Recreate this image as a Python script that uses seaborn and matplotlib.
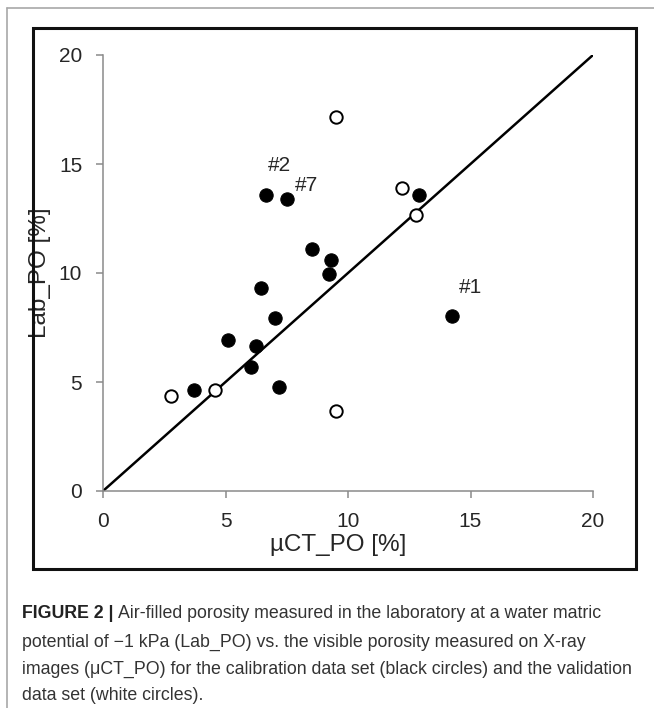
import numpy as np
import pandas as pd
import seaborn as sns
import matplotlib.pyplot as plt
from matplotlib.lines import Line2D
from matplotlib.patches import Rectangle

# kalibracija (crni krugovi)
calib_x = [6.64, 7.50, 12.91, 8.52, 9.29, 9.24, 6.44, 7.02, 5.09, 6.23, 6.04, 7.20, 3.70, 14.23]
calib_y = [13.58, 13.38, 13.58, 11.10, 10.58, 9.95, 9.30, 7.95, 6.94, 6.67, 5.69, 4.79, 4.62, 8.03]
# validacija (bijeli krugovi)
valid_x = [9.51, 12.19, 12.76, 4.56, 2.76, 9.52]
valid_y = [17.17, 13.91, 12.65, 4.62, 4.36, 3.65]
# oznake uzoraka: indeks u kalibraciji, tekst, pomak u pt
point_labels = [(0, '#2', (9.6, 20.9)), (1, '#7', (13.9, 10.3)), (13, '#1', (13.9, 20.2))]
ticks = [0, 5, 10, 15, 20]
line_1to1 = [0, 20]

sns.set_style('white')
plt.rcParams['font.family'] = ['Liberation Sans', 'DejaVu Sans']

calib = pd.DataFrame({'x': calib_x, 'y': calib_y})
valid = pd.DataFrame({'x': valid_x, 'y': valid_y})

fig = plt.figure(figsize=(6.54, 7.08), dpi=100)
ax = fig.add_axes([103 / 654, 1 - 491 / 708, 490 / 654, 436 / 708])

# okviri
fig.add_artist(Line2D([7 / 654, 7 / 654], [0, 1 - 8 / 708], transform=fig.transFigure, color='#a8a8a8', lw=1.2))
fig.add_artist(Line2D([7 / 654, 1], [1 - 8 / 708, 1 - 8 / 708], transform=fig.transFigure, color='#a8a8a8', lw=1.2))
fig.add_artist(Rectangle((33 / 654, 1 - 569 / 708), 603 / 654, 541 / 708, transform=fig.transFigure,
                         fill=False, edgecolor='#111111', lw=2.2))

ax.plot(line_1to1, line_1to1, color='black', lw=1.8, zorder=2)
sns.scatterplot(x='x', y='y', data=calib, ax=ax, color='black', edgecolor='black', s=92, zorder=3)
sns.scatterplot(x='x', y='y', data=valid, ax=ax, color='white', edgecolor='black', linewidth=1.4, s=80, zorder=3)

for i, txt, off in point_labels:
    ax.annotate(txt, (calib_x[i], calib_y[i]), xytext=off, textcoords='offset points',
                ha='center', va='center', fontsize=15)

ax.set_xlim(0, 20)
ax.set_ylim(0, 20)
ax.set_xticks(ticks)
ax.set_yticks(ticks)
ax.tick_params(axis='both', direction='out', length=5, width=1.1, color='#8a8a8a',
               labelsize=15, pad=10, bottom=True, left=True)
for side in ['top', 'right']:
    ax.spines[side].set_visible(False)
for side in ['left', 'bottom']:
    ax.spines[side].set_color('#8a8a8a')
    ax.spines[side].set_linewidth(1.1)

ax.set_xlabel('µCT_PO [%]', fontsize=17.5)
ax.set_ylabel('Lab_PO [%]', fontsize=17.5)
ax.xaxis.label.set_va('center')
ax.yaxis.label.set_va('center')
ax.xaxis.set_label_coords((338 - 103) / 490, (491 - 545) / 436)
ax.yaxis.set_label_coords((40 - 103) / 490, 0.5)

# potpis slike
caption = [
    'Air-filled porosity measured in the laboratory at a water matric',
    'potential of \u22121 kPa (Lab_PO) vs. the visible porosity measured on X-ray',
    'images (\u03bcCT_PO) for the calibration data set (black circles) and the validation',
    'data set (white circles).',
]
line_y = [614, 642, 669, 696]
x0 = 22 / 654
fs = 12.8
bold = fig.text(x0, 1 - line_y[0] / 708, 'FIGURE 2 |', fontsize=fs, fontweight='bold',
                color='#222222', va='center')
r = fig.canvas.get_renderer()
bb = bold.get_window_extent(renderer=r)
fig.text(bb.x1 / 654 + 4 / 654, 1 - line_y[0] / 708, caption[0], fontsize=fs, color='#333333', va='center')
for txt, yy in zip(caption[1:], line_y[1:]):
    fig.text(x0, 1 - yy / 708, txt, fontsize=fs, color='#333333', va='center')

fig.savefig('out.png', dpi=100)
